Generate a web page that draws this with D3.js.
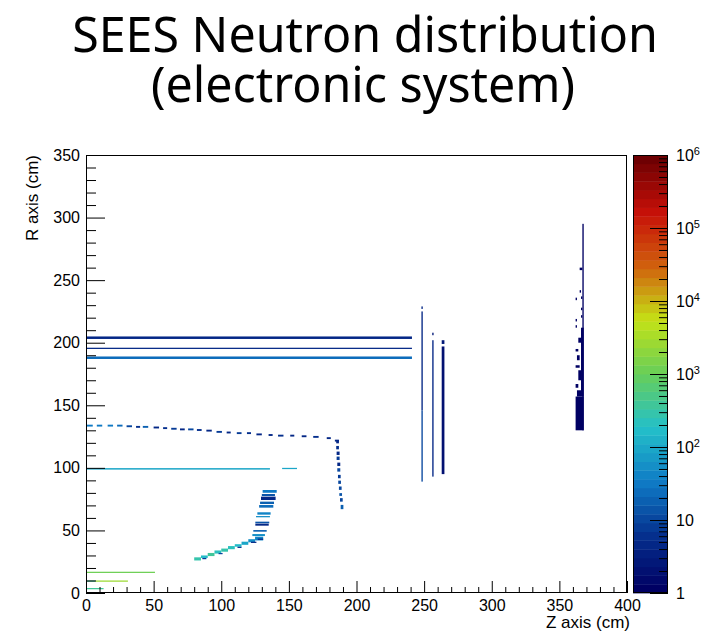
<!DOCTYPE html>
<html>
<head>
<meta charset="utf-8">
<script src="https://cdn.jsdelivr.net/npm/d3@7"></script>
<style>
  html, body { margin: 0; padding: 0; background: #fff; }
  svg { display: block; }
</style>
</head>
<body>
<svg id="chart" width="726" height="634"></svg>
<script>
// Axis ranges and tick labels
const zRange = [0, 400];
const rRange = [0, 350];
const countRange = [1, 1e6];
const zTickLabels = [0, 50, 100, 150, 200, 250, 300, 350, 400];
const rTickLabels = [0, 50, 100, 150, 200, 250, 300, 350];
const countTickLabels = [1, 10, 1e2, 1e3, 1e4, 1e5, 1e6];

// Colour palette (rainbow) stops
const paletteStops = [0, 0.125, 0.25, 0.375, 0.5, 0.625, 0.75, 0.875, 1];
const paletteColors = ["rgb(0,0,99)", "rgb(5,48,142)", "rgb(15,124,198)", "rgb(35,192,201)",
  "rgb(102,206,90)", "rgb(196,226,22)", "rgb(208,97,13)", "rgb(199,16,8)", "rgb(110,0,2)"];
const nContours = 50;

// Filled bin runs: [zFrom, zTo, rFrom, rTo, counts]  (cm, cm, cm, cm, neutrons)
const shellRuns = [
  [0, 241, 203, 205, 4],
  [0, 241, 195, 196, 5],
  [0, 241, 187, 189, 25]
];
const wallRuns = [
  [248, 249, 227, 229, 4],
  [248, 249, 146, 225, 4],
  [248, 249, 89, 146, 12],
  [256, 257, 206, 208, 3],
  [256, 257, 93, 202, 5],
  [263, 265, 199, 202, 3],
  [263, 265, 95, 197, 2]
];
const endcapColumn = [
  [367, 368, 130, 295, 1],
  [366, 368, 157, 212, 1],
  [362, 368, 130, 157, 1],
  [365, 367, 258, 260, 1],
  [365, 366, 240, 242, 1],
  [362, 363, 234, 236, 1],
  [366, 367, 235, 237, 1],
  [366, 367, 226, 228, 1],
  [366, 367, 220, 222, 1],
  [362, 363, 217, 219, 1],
  [362, 363, 212, 214, 1],
  [364, 366, 200, 204, 1],
  [362, 364, 193, 195, 1],
  [363, 365, 186, 190, 1],
  [362, 365, 180, 182, 1],
  [364, 366, 170, 178, 1],
  [362, 364, 164, 167, 1],
  [363, 366, 157, 162, 1]
];
const trackerDashes = [
  [0, 5, 133, 134.5, 30],
  [8, 12, 133, 134.5, 30],
  [16, 20, 133, 134.5, 30],
  [23, 27, 133, 134.5, 25],
  [30, 34, 132.5, 134, 12],
  [37, 40, 132, 133.5, 6],
  [42, 46, 132, 133.5, 20],
  [50, 54, 131.5, 133, 5],
  [57, 60, 131, 132.5, 6],
  [63, 67, 130.5, 132, 8],
  [69.5, 73, 130, 131.5, 5],
  [75.5, 79.5, 130, 131.5, 10],
  [82, 85.5, 129.5, 131, 6],
  [89, 93, 129, 130.5, 5],
  [96.5, 100.5, 128, 129.5, 7],
  [104, 107, 127.5, 129, 5],
  [111.5, 115, 127, 128.5, 8],
  [119, 122, 127, 128.5, 6],
  [126, 130, 126, 127.5, 5],
  [135, 138, 125.5, 127, 4],
  [142, 146, 125, 126.5, 6],
  [151, 154, 125, 126.5, 4],
  [159.5, 163, 124.5, 126, 5],
  [168, 172, 124, 125.5, 6],
  [178, 181, 123, 124.5, 4],
  [184, 187, 121, 122.5, 5]
];
const trackerReturn = [
  [185, 187, 119.6, 122.3, 4],
  [185, 187, 114.8, 117.5, 6],
  [185.3, 187.5, 110.3, 113, 5],
  [185.3, 187.5, 106.3, 109, 8],
  [185.8, 188, 101.5, 104.2, 5],
  [185.8, 188, 97, 99.7, 10],
  [186.3, 188.3, 91.7, 94.4, 8],
  [186.5, 188.5, 87.2, 89.8, 12],
  [187, 189, 82.4, 85.1, 10],
  [187.3, 189.3, 77.6, 79.8, 15],
  [187.8, 189.8, 73, 75.8, 12],
  [188.3, 190.3, 67, 70.4, 20]
];
const supportRuns = [
  [0, 136, 98.6, 99.8, 90],
  [145, 156, 99, 100, 90]
];
const moduleBars = [
  [130.6, 141, 80.1, 82.3, 30],
  [130, 139.7, 77.5, 79.1, 15],
  [129.4, 140.2, 74.3, 77, 5],
  [128.7, 139, 71.1, 73, 20],
  [128, 138.5, 68.2, 70.3, 25],
  [126.7, 136.5, 62.6, 64.5, 40],
  [125.7, 136, 60.5, 61.5, 60],
  [125.2, 135.5, 55.7, 57, 15],
  [125.2, 135.1, 53.8, 55.4, 4],
  [123.7, 133.6, 49, 50.3, 20],
  [123, 132.3, 45.5, 47.1, 60]
];
const moduleRamp = [
  [80, 85, 26, 28.5, 300],
  [85, 90, 28, 30, 150],
  [90, 95, 29.5, 32, 400],
  [95, 100, 31.5, 34, 200],
  [100, 105, 33, 35.5, 300],
  [105, 110, 35, 37.5, 250],
  [110, 115, 37, 39, 150],
  [115, 120, 38.5, 41, 100],
  [120, 125, 40.5, 43, 60],
  [125, 131, 42, 45, 40],
  [86, 89, 27, 28, 8],
  [98, 101, 31, 32, 10],
  [112, 115, 36, 37, 6],
  [122, 126, 40, 41, 5],
  [127, 131, 42.5, 43.5, 4]
];
const beamRuns = [
  [0, 51, 16, 17, 1200],
  [0, 7, 9, 10, 400],
  [7, 31, 9, 10, 3000],
  [0, 13, 3, 4, 400]
];

// ---- layout ----
const frame = { left: 86, right: 627, top: 155, bottom: 593 };
const bar = { left: 633, right: 668 };
const axisFont = "'Liberation Sans', Arial, Helvetica, sans-serif";

const svg = d3.select("#chart");

const x = d3.scaleLinear().domain(zRange).range([frame.left, frame.right]);
const y = d3.scaleLinear().domain(rRange).range([frame.bottom, frame.top]);
const cy = d3.scaleLog().domain(countRange).range([frame.bottom, frame.top]);

const palette = d3.scaleLinear().domain(paletteStops).range(paletteColors)
  .interpolate(d3.interpolateRgb).clamp(true);
const logMax = Math.log10(countRange[1]);
function contourLevel(v) {
  const lv = Math.floor(Math.log10(v) / logMax * nContours);
  return Math.max(0, Math.min(nContours - 1, lv));
}
function binColor(v) {
  return palette(contourLevel(v) / (nContours - 1));
}

// ---- title ----
const titleFont = "'Noto Sans', 'Open Sans', sans-serif";
const t1 = svg.append("text").attr("x", 365).attr("y", 52).attr("text-anchor", "middle")
  .style("font-family", titleFont).style("font-size", "48px").attr("fill", "#000")
  .text("SEES Neutron distribution");
const t2 = svg.append("text").attr("x", 363).attr("y", 102).attr("text-anchor", "middle")
  .style("font-family", titleFont).style("font-size", "48px").attr("fill", "#000")
  .text("(electronic system)");
const fit = 586 / t1.node().getComputedTextLength();
t1.style("font-size", (48 * fit) + "px");
t2.style("font-size", (48 * fit) + "px");

// ---- histogram cells ----
const cells = [].concat(shellRuns, wallRuns, endcapColumn, trackerDashes, trackerReturn,
  supportRuns, moduleBars, moduleRamp, beamRuns);

svg.append("g").attr("class", "cells")
  .selectAll("rect").data(cells).join("rect")
  .attr("x", d => x(d[0]))
  .attr("width", d => x(d[1]) - x(d[0]))
  .attr("y", d => y(d[3]))
  .attr("height", d => y(d[2]) - y(d[3]))
  .attr("fill", d => binColor(d[4]));

// ---- axes ----
function minorValues(majors, step, sub) {
  const out = [];
  for (let i = 0; i < majors.length - 1; i++) {
    for (let k = 1; k < sub; k++) out.push(majors[i] + k * step / sub);
  }
  return out;
}

function styleAxis(g) {
  g.select(".domain").remove();
  g.selectAll("line").attr("stroke", "#000").attr("stroke-width", 1);
  g.selectAll("text").style("font-family", axisFont).style("font-size", "16px").attr("fill", "#000");
}

// X axis
svg.append("g").attr("transform", `translate(0,${frame.bottom})`)
  .call(d3.axisBottom(x).tickValues(zTickLabels).tickSize(-12).tickPadding(7).tickFormat(d3.format("d")))
  .call(styleAxis);
svg.append("g").attr("transform", `translate(0,${frame.bottom})`)
  .call(d3.axisBottom(x).tickValues(minorValues(zTickLabels, 50, 5)).tickSize(-6).tickFormat(""))
  .call(styleAxis);

// Y axis
svg.append("g").attr("transform", `translate(${frame.left},0)`)
  .call(d3.axisLeft(y).tickValues(rTickLabels).tickSize(-19).tickPadding(6).tickFormat(d3.format("d")))
  .call(styleAxis);
svg.append("g").attr("transform", `translate(${frame.left},0)`)
  .call(d3.axisLeft(y).tickValues(minorValues(rTickLabels, 50, 5)).tickSize(-10).tickFormat(""))
  .call(styleAxis);

// Frame
svg.append("rect").attr("x", frame.left + 0.5).attr("y", frame.top + 0.5)
  .attr("width", frame.right - frame.left - 1).attr("height", frame.bottom - frame.top - 1)
  .attr("fill", "none").attr("stroke", "#000").attr("stroke-width", 1);

// Axis titles
svg.append("text").attr("x", frame.right + 3).attr("y", 628).attr("text-anchor", "end")
  .style("font-family", axisFont).style("font-size", "17px").text("Z axis (cm)");
svg.append("text").attr("transform", `translate(38,${frame.top}) rotate(-90)`)
  .attr("text-anchor", "end")
  .style("font-family", axisFont).style("font-size", "17px").text("R axis (cm)");

// ---- colour bar ----
const bands = d3.range(nContours);
const bandLog = d3.scaleLinear().domain([0, nContours]).range([0, logMax]);
svg.append("g").selectAll("rect").data(bands).join("rect")
  .attr("x", bar.left)
  .attr("width", bar.right - bar.left)
  .attr("y", i => cy(Math.pow(10, bandLog(i + 1))))
  .attr("height", i => cy(Math.pow(10, bandLog(i))) - cy(Math.pow(10, bandLog(i + 1))) + 0.4)
  .attr("fill", i => palette(i / (nContours - 1)));
svg.append("rect").attr("x", bar.left + 0.5).attr("y", frame.top + 0.5)
  .attr("width", bar.right - bar.left - 1).attr("height", frame.bottom - frame.top - 1)
  .attr("fill", "none").attr("stroke", "#000").attr("stroke-width", 1);

const countMinor = [];
countTickLabels.slice(0, -1).forEach(d => { for (let k = 2; k <= 9; k++) countMinor.push(d * k); });

const cAxis = svg.append("g").attr("transform", `translate(${bar.right},0)`)
  .call(d3.axisRight(cy).tickValues(countTickLabels).tickSize(-18).tickPadding(8).tickFormat(d => String(d)))
  .call(styleAxis);
svg.append("g").attr("transform", `translate(${bar.right},0)`)
  .call(d3.axisRight(cy).tickValues(countMinor).tickSize(-9).tickFormat(""))
  .call(styleAxis);

// Power-of-ten labels: 1, 10, then 10 with a raised exponent
cAxis.selectAll(".tick text").each(function(d) {
  const e = Math.round(Math.log10(d));
  const t = d3.select(this).text(null);
  if (e <= 1) { t.text(String(d)); return; }
  t.append("tspan").text("10");
  t.append("tspan").attr("dy", "-0.5em").style("font-size", "11px").text(String(e));
});
</script>
</body>
</html>
